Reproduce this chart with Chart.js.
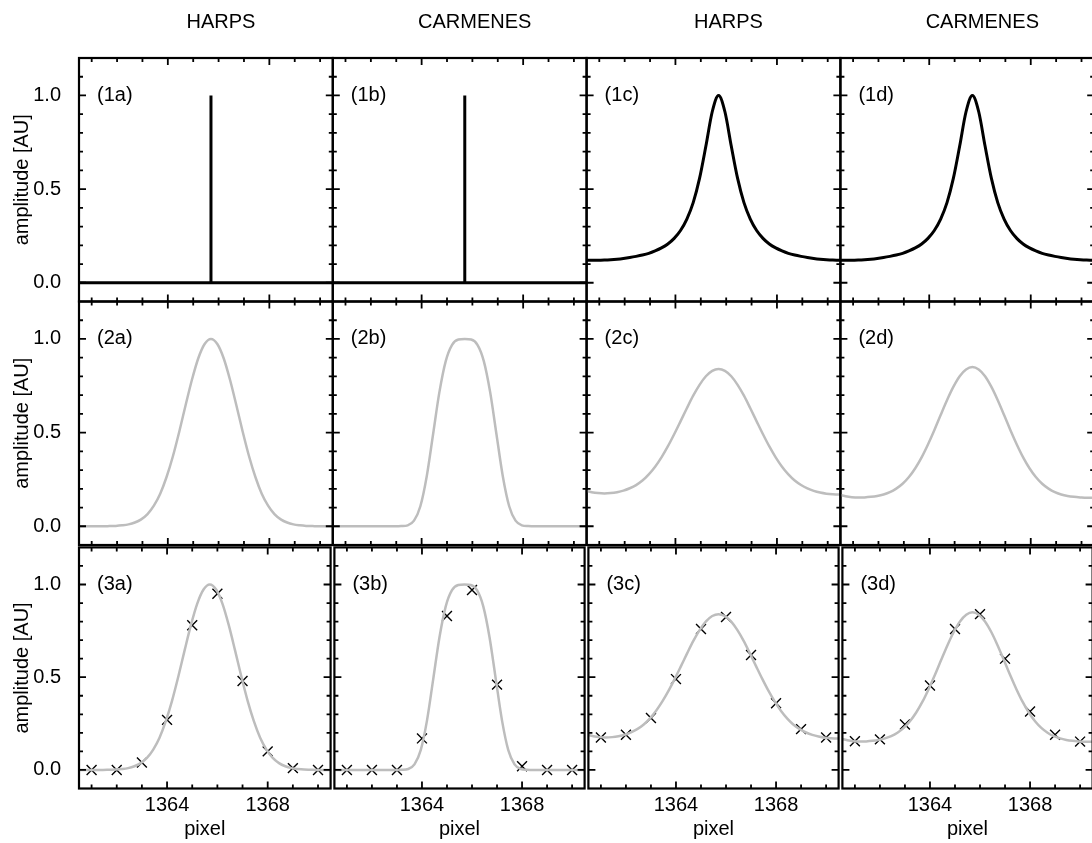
<!DOCTYPE html>
<html>
<head>
<meta charset="utf-8">
<script src="https://cdn.jsdelivr.net/npm/chart.js@4.4.1/dist/chart.umd.min.js"></script>
<style>
  html, body { margin: 0; padding: 0; background: #fff; overflow: hidden; }
  body { width: 1092px; height: 843px; position: relative; }
  canvas { position: absolute; }
</style>
</head>
<body>
<script>
// detector pixel positions where the profiles are sampled
const pixelGrid = [
  1360.45, 1360.70, 1360.95, 1361.20, 1361.45, 1361.70, 1361.95, 1362.20, 1362.45, 1362.70,
  1362.95, 1363.20, 1363.45, 1363.70, 1363.95, 1364.20, 1364.45, 1364.70, 1364.95, 1365.20,
  1365.45, 1365.70, 1365.95, 1366.20, 1366.45, 1366.70, 1366.95, 1367.20, 1367.45, 1367.70,
  1367.95, 1368.20, 1368.45, 1368.70, 1368.95, 1369.20, 1369.45, 1369.70, 1369.95, 1370.20,
  1370.45, 1370.70
];

// input line position and height (delta function)
const linePos = 1365.7;
const lineAmp = 1.0;

// etalon line (Airy-like profile)
const etalonLine = [
  0.120, 0.120, 0.120, 0.121, 0.123, 0.126, 0.130, 0.135, 0.141, 0.148,
  0.157, 0.170, 0.186, 0.207, 0.237, 0.279, 0.340, 0.428, 0.557, 0.730,
  0.913, 1.000, 0.913, 0.730, 0.557, 0.428, 0.340, 0.279, 0.237, 0.207,
  0.186, 0.170, 0.157, 0.148, 0.141, 0.135, 0.130, 0.126, 0.123, 0.121,
  0.120, 0.120
];

// instrumental profiles
const harpsIp = [
  0, 0, 0, 0, 0, 0.001, 0.002, 0.005, 0.010, 0.020,
  0.037, 0.065, 0.110, 0.174, 0.263, 0.374, 0.505, 0.646, 0.782, 0.897,
  0.973, 1.000, 0.973, 0.897, 0.782, 0.646, 0.505, 0.374, 0.263, 0.174,
  0.110, 0.065, 0.037, 0.020, 0.010, 0.005, 0.002, 0.001, 0, 0,
  0, 0
];
const carmenesIp = [
  0, 0, 0, 0, 0, 0, 0, 0, 0, 0,
  0, 0.001, 0.005, 0.030, 0.107, 0.266, 0.490, 0.716, 0.882, 0.969,
  0.997, 1.000, 0.997, 0.969, 0.882, 0.716, 0.490, 0.266, 0.107, 0.030,
  0.005, 0.001, 0, 0, 0, 0, 0, 0, 0, 0,
  0, 0
];

// etalon line convolved with each instrumental profile
const harpsConv = [
  0.190, 0.182, 0.177, 0.175, 0.177, 0.182, 0.190, 0.203, 0.220, 0.244,
  0.277, 0.318, 0.368, 0.426, 0.491, 0.560, 0.630, 0.697, 0.755, 0.801,
  0.830, 0.840, 0.830, 0.801, 0.755, 0.697, 0.630, 0.560, 0.491, 0.426,
  0.368, 0.318, 0.277, 0.244, 0.220, 0.202, 0.189, 0.180, 0.174, 0.171,
  0.170, 0.170
];
const carmenesConv = [
  0.168, 0.160, 0.155, 0.153, 0.154, 0.157, 0.162, 0.170, 0.182, 0.201,
  0.227, 0.263, 0.310, 0.368, 0.437, 0.513, 0.594, 0.673, 0.744, 0.801,
  0.837, 0.850, 0.837, 0.801, 0.744, 0.673, 0.594, 0.513, 0.437, 0.368,
  0.310, 0.263, 0.227, 0.201, 0.182, 0.170, 0.162, 0.157, 0.154, 0.152,
  0.152, 0.155
];

// pixel-integrated samples
const pixels = [1361, 1362, 1363, 1364, 1365, 1366, 1367, 1368, 1369, 1370];
const harpsSampled = [0.0, 0.0, 0.04, 0.27, 0.78, 0.95, 0.48, 0.10, 0.01, 0.0];
const carmenesSampled = [0.0, 0.0, 0.0, 0.17, 0.83, 0.97, 0.46, 0.02, 0.0, 0.0];
const harpsConvSampled = [0.175, 0.19, 0.28, 0.49, 0.76, 0.825, 0.62, 0.36, 0.22, 0.175];
const carmenesConvSampled = [0.155, 0.165, 0.245, 0.455, 0.76, 0.84, 0.60, 0.315, 0.19, 0.153];

// axes
const xRange = [1360.5, 1370.5];
const yRange = [-0.1, 1.2];
const xMajor = [1364, 1368];
const xMinor = [1361, 1362, 1363, 1365, 1366, 1367, 1369, 1370];
const yMajor = [0, 0.5, 1.0];
const yMinor = [0.1, 0.2, 0.3, 0.4, 0.6, 0.7, 0.8, 0.9, 1.1];
const columnTitles = ['HARPS', 'CARMENES', 'HARPS', 'CARMENES'];
const rowTags = ['1', '2', '3'];
const colTags = ['a', 'b', 'c', 'd'];

const GRAY = '#bdbdbd';
const FONT = '"Liberation Sans", Arial, sans-serif';
const FSIZE = 20;

Chart.defaults.font.family = FONT;
Chart.defaults.font.size = FSIZE;
Chart.defaults.color = '#000';

const pts = (xs, ys) => xs.map((x, i) => ({ x: x, y: ys[i] }));

function curve(ys, color, width) {
  return {
    data: pts(pixelGrid, ys),
    borderColor: color,
    borderWidth: width,
    pointRadius: 0,
    cubicInterpolationMode: 'monotone',
    fill: false
  };
}

function deltaLine() {
  return {
    data: [
      { x: xRange[0], y: 0 }, { x: linePos, y: 0 }, { x: linePos, y: lineAmp },
      { x: linePos, y: 0 }, { x: xRange[1], y: 0 }
    ],
    borderColor: '#000',
    borderWidth: 3,
    pointRadius: 0,
    tension: 0
  };
}

function samples(ys) {
  return {
    data: pts(pixels, ys),
    showLine: false,
    pointStyle: 'crossRot',
    pointRadius: 7,
    pointBorderWidth: 1.4,
    pointBorderColor: '#000',
    pointBackgroundColor: '#000'
  };
}

const ipRow = [harpsIp, carmenesIp, harpsConv, carmenesConv];
const sampledRow = [harpsSampled, carmenesSampled, harpsConvSampled, carmenesConvSampled];

function panelData(r, c) {
  if (r === 0) return c < 2 ? [deltaLine()] : [curve(etalonLine, '#000', 3)];
  if (r === 1) return [curve(ipRow[c], GRAY, 2.5)];
  return [curve(ipRow[c], GRAY, 2.5), samples(sampledRow[c])];
}

// frame with inward ticks on all four sides, panel tag and column title
const frameTicks = {
  id: 'frameTicks',
  afterDatasetsDraw(chart, args, opts) {
    const { ctx, chartArea: a, scales } = chart;
    const x = scales.x, y = scales.y;
    ctx.save();
    ctx.strokeStyle = '#000';
    ctx.lineWidth = 1.8;
    ctx.beginPath();
    const xt = (v, len) => {
      const p = x.getPixelForValue(v);
      ctx.moveTo(p, a.bottom); ctx.lineTo(p, a.bottom - len);
      ctx.moveTo(p, a.top); ctx.lineTo(p, a.top + len);
    };
    const yt = (v, len) => {
      const p = y.getPixelForValue(v);
      ctx.moveTo(a.left, p); ctx.lineTo(a.left + len, p);
      ctx.moveTo(a.right, p); ctx.lineTo(a.right - len, p);
    };
    xMinor.forEach(v => xt(v, 4));
    xMajor.forEach(v => xt(v, 7));
    yMinor.forEach(v => yt(v, 4));
    yMajor.forEach(v => yt(v, 7));
    ctx.stroke();
    ctx.lineWidth = 2.2;
    ctx.strokeRect(a.left, a.top, a.right - a.left, a.bottom - a.top);

    ctx.fillStyle = '#000';
    ctx.font = FSIZE + 'px ' + FONT;
    ctx.textBaseline = 'middle';
    ctx.textAlign = 'left';
    ctx.fillText(opts.tag, a.left + 18, y.getPixelForValue(1.0));
    if (opts.title) {
      ctx.textAlign = 'center';
      ctx.fillText(opts.title, (a.left + a.right) / 2 + 15, 22);
    }
    ctx.restore();
  }
};

const PW = 253.8, PH = 243.5, PX = 79, PY = 58;

function noPad(s) {
  s.paddingLeft = 0; s.paddingRight = 0; s.paddingTop = 0; s.paddingBottom = 0;
}

function makePanel(r, c) {
  const L = PX + c * PW, T = PY + r * PH;
  const x0 = c === 0 ? 0 : Math.floor(L) - 6;
  const y0 = r === 0 ? 0 : Math.floor(T) - 6;
  const x1 = Math.ceil(L + PW) + 6;
  const y1 = r === 2 ? 843 : Math.ceil(T + PH) + 6;

  const cv = document.createElement('canvas');
  cv.width = x1 - x0;
  cv.height = y1 - y0;
  cv.style.left = x0 + 'px';
  cv.style.top = y0 + 'px';
  cv.style.width = (x1 - x0) + 'px';
  cv.style.height = (y1 - y0) + 'px';
  document.body.appendChild(cv);

  const showX = r === 2, showY = c === 0;

  new Chart(cv, {
    type: 'line',
    data: { datasets: panelData(r, c) },
    options: {
      responsive: false,
      animation: false,
      devicePixelRatio: 1,
      layout: {
        padding: {
          left: showY ? 0 : L - x0,
          right: x1 - (L + PW),
          top: T - y0,
          bottom: showX ? 0 : y1 - (T + PH)
        }
      },
      plugins: {
        legend: { display: false },
        tooltip: { enabled: false },
        title: { display: false },
        frameTicks: {
          tag: '(' + rowTags[r] + colTags[c] + ')',
          title: r === 0 ? columnTitles[c] : null
        }
      },
      scales: {
        x: {
          type: 'linear',
          display: showX,
          min: xRange[0],
          max: xRange[1],
          grid: { display: false, drawTicks: false },
          border: { display: false },
          afterBuildTicks: s => { s.ticks = xMajor.map(v => ({ value: v })); },
          afterFit: s => { noPad(s); if (showX) s.height = y1 - (T + PH); },
          ticks: { padding: 5, maxRotation: 0, callback: v => String(v) },
          title: { display: true, text: 'pixel', padding: { top: 0, bottom: 2 } }
        },
        y: {
          type: 'linear',
          display: showY,
          min: yRange[0],
          max: yRange[1],
          grid: { display: false, drawTicks: false },
          border: { display: false },
          afterBuildTicks: s => { s.ticks = yMajor.map(v => ({ value: v })); },
          afterFit: s => { noPad(s); if (showY) s.width = L - x0; },
          ticks: { padding: 18, callback: v => v.toFixed(1) },
          title: { display: true, text: 'amplitude [AU]', padding: { top: 10, bottom: 0 } }
        }
      }
    },
    plugins: [frameTicks]
  });
}

for (let r = 0; r < 3; r++) {
  for (let c = 0; c < 4; c++) makePanel(r, c);
}
</script>
</body>
</html>
